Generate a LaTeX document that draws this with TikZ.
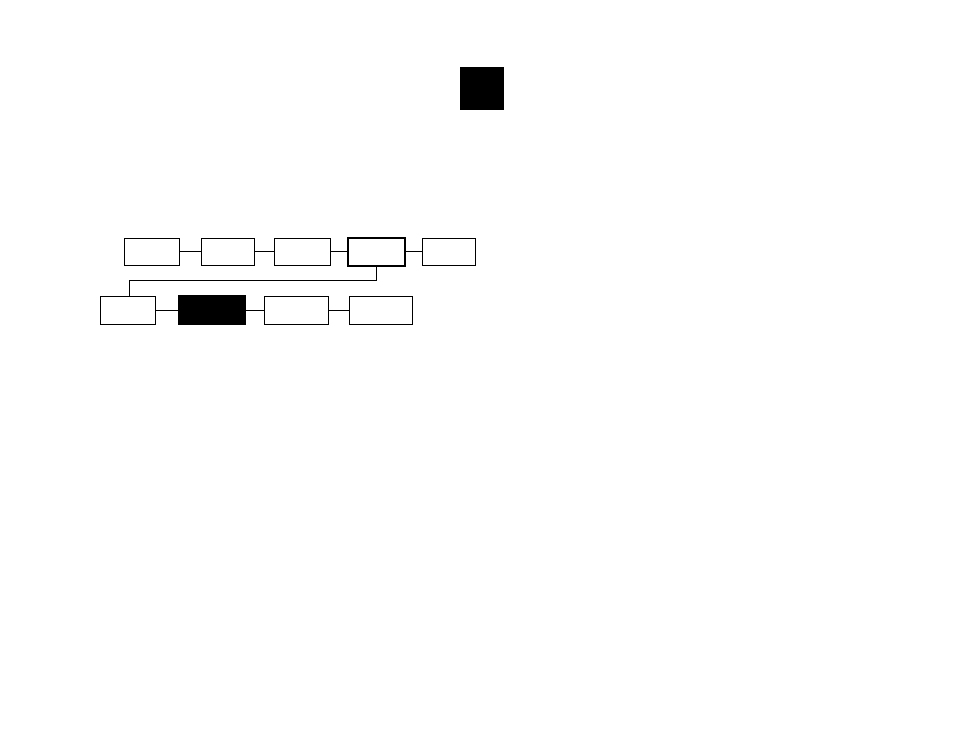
\documentclass[tikz,border=0pt]{standalone}
\usepackage{tikz}
\begin{document}
\begin{tikzpicture}[x=1pt,y=-1pt,
    box/.style={draw,line width=1pt,inner sep=0pt,minimum height=27pt}]
    \useasboundingbox (0,0) rectangle (954,737);
    \node[fill=black,minimum width=44pt,minimum height=43pt,inner sep=0pt] (mark) at (482,88.3) {};
    % top row: centre x / width
    \def\tops{151.8/55,227.7/53.3,302.3/56,376.8/56.3,449/53.4}
    \foreach \x/\w [count=\i from 1] in \tops {\node[box,minimum width=\w pt] (t\i) at (\x,251.5) {};}
    \draw[line width=2pt] (t4.north west) rectangle (t4.south east);
    % bottom row
    \def\bots{127.8/55,211.5/67,296.5/64.4,380.8/63}
    \foreach \x/\w [count=\i from 1] in \bots {\node[box,minimum width=\w pt,minimum height=28.3pt] (b\i) at (\x,310.2) {};}
    \fill (b2.north west) ++(0,-1) rectangle ([yshift=1pt]b2.south east);
    \draw[line width=1pt] (t1)--(t2)--(t3)--(t4)--(t5);
    \draw[line width=1pt] (b1)--(b2)--(b3)--(b4);
    \draw[line width=1pt] (t4.south)--++(0,15)-|([xshift=1.5pt]b1.north);
\end{tikzpicture}
\end{document}
